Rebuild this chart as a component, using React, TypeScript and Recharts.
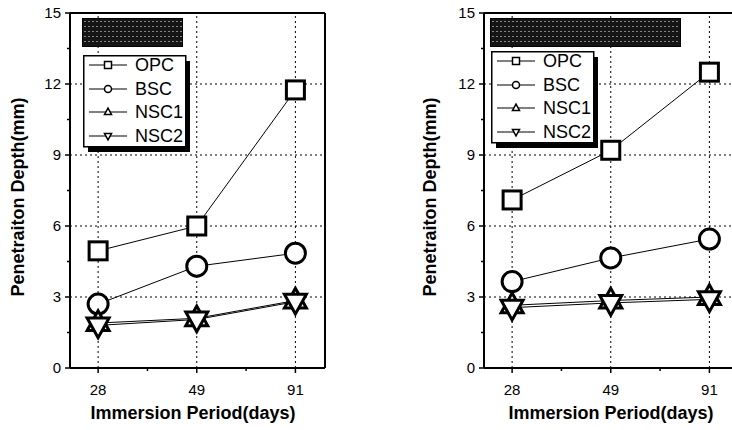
import React from "react";
import {
  LineChart,
  Line,
  XAxis,
  YAxis,
  ReferenceLine,
} from "recharts";

// immersion periods (days) shown on the x axis
const periods = ["28", "49", "91"];
const xTicks = [0, 0.5, 1, 1.5, 2];
const yTicks = [0, 1.5, 3, 4.5, 6, 7.5, 9, 10.5, 12, 13.5, 15];
const gridX = [0, 1, 2];
const gridY = [3, 6, 9, 12];

// left panel
const leftOpc = [4.95, 6.0, 11.75];
const leftBsc = [2.7, 4.3, 4.85];
const leftNsc1 = [1.9, 2.1, 2.85];
const leftNsc2 = [1.8, 2.05, 2.8];

// right panel
const rightOpc = [7.1, 9.2, 12.5];
const rightBsc = [3.65, 4.65, 5.45];
const rightNsc1 = [2.65, 2.85, 3.0];
const rightNsc2 = [2.55, 2.75, 2.9];

const seriesNames = ["OPC", "BSC", "NSC1", "NSC2"];
const seriesKeys = ["opc", "bsc", "nsc1", "nsc2"];

const FONT = "'Liberation Sans', Arial, sans-serif";
const X_DOMAIN: [number, number] = [-0.285, 2.3];

type Shape = "square" | "circle" | "up" | "down";
const shapes: Shape[] = ["square", "circle", "up", "down"];

function Marker({ cx, cy, shape, s, sw }: { cx: number; cy: number; shape: Shape; s: number; sw: number }) {
  if (shape === "square")
    return <rect x={cx - s / 2} y={cy - s / 2} width={s} height={s} fill="#fff" stroke="#000" strokeWidth={sw} />;
  if (shape === "circle")
    return <circle cx={cx} cy={cy} r={s / 2} fill="#fff" stroke="#000" strokeWidth={sw} />;
  const h = s * 0.9;
  if (shape === "up")
    return (
      <polygon
        points={`${cx},${cy - h * 0.62} ${cx - s / 2},${cy + h * 0.38} ${cx + s / 2},${cy + h * 0.38}`}
        fill="#fff"
        stroke="#000"
        strokeWidth={sw}
      />
    );
  return (
    <polygon
      points={`${cx},${cy + h * 0.62} ${cx - s / 2},${cy - h * 0.38} ${cx + s / 2},${cy - h * 0.38}`}
      fill="#fff"
      stroke="#000"
      strokeWidth={sw}
    />
  );
}

const XTick = (props: any) => {
  const { x, y, payload } = props;
  const v = payload.value;
  const major = Number.isInteger(v);
  return (
    <g>
      <line x1={x} x2={x} y1={y} y2={y + (major ? 5 : 3)} stroke="#000" strokeWidth={1.5} />
      {major && (
        <text x={x} y={y + 27} textAnchor="middle" fontSize={15} fontFamily={FONT} fill="#000">
          {periods[v]}
        </text>
      )}
    </g>
  );
};

const YTick = (props: any) => {
  const { x, y, payload } = props;
  const v = payload.value;
  const major = v % 3 === 0;
  return (
    <g>
      <line x1={x} x2={x - (major ? 5 : 3)} y1={y} y2={y} stroke="#000" strokeWidth={1.5} />
      {major && (
        <text x={x - 9} y={y + 5} textAnchor="end" fontSize={15} fontFamily={FONT} fill="#000">
          {v}
        </text>
      )}
    </g>
  );
};

function Legend({ left, top }: { left: number; top: number }) {
  const rows = [10, 34, 57, 81];
  return (
    <svg style={{ position: "absolute", left, top, overflow: "visible" }} width={112} height={100}>
      <rect x={5} y={6} width={102} height={91} fill="#000" />
      <rect x={0.75} y={0.75} width={102} height={91} fill="#fff" stroke="#000" strokeWidth={1.5} />
      {seriesNames.map((n, i) => (
        <g key={n}>
          <line x1={6} x2={44} y1={rows[i]} y2={rows[i]} stroke="#000" strokeWidth={1.2} />
          <Marker cx={25} cy={rows[i]} shape={shapes[i]} s={7} sw={1.5} />
          <text x={52} y={rows[i] + 6} fontSize={18} fontFamily={FONT} fill="#000">
            {n}
          </text>
        </g>
      ))}
    </svg>
  );
}

function TitleBox({ left, top, width, height }: { left: number; top: number; width: number; height: number }) {
  return (
    <div
      style={{
        position: "absolute",
        left,
        top,
        width,
        height,
        background: "#151515",
        backgroundImage:
          "radial-gradient(circle, rgba(210,210,210,0.6) 0.7px, transparent 1.1px)",
        backgroundSize: "4px 5px",
        border: "1px solid #000",
      }}
    />
  );
}

function Panel({
  left,
  opc,
  bsc,
  nsc1,
  nsc2,
  boxLeft,
  legendTop,
  titleWidth,
  yLabelX,
  xLabelX,
}: {
  left: number;
  opc: number[];
  bsc: number[];
  nsc1: number[];
  nsc2: number[];
  boxLeft: number;
  legendTop: number;
  titleWidth: number;
  yLabelX: number;
  xLabelX: number;
}) {
  const data = periods.map((p, i) => ({ idx: i, opc: opc[i], bsc: bsc[i], nsc1: nsc1[i], nsc2: nsc2[i] }));
  return (
    <div style={{ position: "absolute", left, top: 0, width: 345, height: 430 }}>
      <LineChart width={345} height={430} data={data} margin={{ top: 13, right: 20, bottom: 0, left: 0 }}>
        <XAxis
          dataKey="idx"
          type="number"
          domain={X_DOMAIN}
          allowDataOverflow
          ticks={xTicks}
          interval={0}
          tick={<XTick />}
          tickLine={false}
          tickSize={0}
          tickMargin={0}
          axisLine={{ stroke: "#000", strokeWidth: 2 }}
          height={62}
        />
        <YAxis
          type="number"
          domain={[0, 15]}
          ticks={yTicks}
          interval={0}
          tick={<YTick />}
          tickLine={false}
          tickSize={0}
          tickMargin={0}
          axisLine={{ stroke: "#000", strokeWidth: 2 }}
          width={70}
        />
        {gridX.map((g) => (
          <ReferenceLine key={"x" + g} x={g} stroke="#000" strokeWidth={1} strokeDasharray="2 3" />
        ))}
        {gridY.map((g) => (
          <ReferenceLine key={"y" + g} y={g} stroke="#000" strokeWidth={1} strokeDasharray="2 3" />
        ))}
        {/* frame: top and right edges of the plot */}
        <ReferenceLine y={15} stroke="#000" strokeWidth={2} />
        <ReferenceLine x={X_DOMAIN[1]} stroke="#000" strokeWidth={2} />
        {seriesKeys.map((k, i) => (
          <Line
            key={k}
            dataKey={k}
            stroke="#000"
            strokeWidth={1}
            isAnimationActive={false}
            dot={(p: any) => (
              <Marker key={k + p.index} cx={p.cx} cy={p.cy} shape={shapes[i]} s={i === 1 ? 20 : i === 0 ? 18 : 22} sw={3} />
            )}
            activeDot={false}
          />
        ))}
      </LineChart>
      <TitleBox left={boxLeft - 1} top={18} width={titleWidth} height={27} />
      <Legend left={boxLeft} top={legendTop} />
      <div
        style={{
          position: "absolute",
          left: yLabelX,
          top: 197,
          transform: "translate(-50%, -50%) rotate(-90deg)",
          whiteSpace: "nowrap",
          fontFamily: FONT,
          fontWeight: "bold",
          fontSize: 18,
          color: "#000",
        }}
      >
        Penetraiton Depth(mm)
      </div>
      <div
        style={{
          position: "absolute",
          left: xLabelX,
          top: 413,
          transform: "translate(-50%, -50%)",
          whiteSpace: "nowrap",
          fontFamily: FONT,
          fontWeight: "bold",
          fontSize: 18,
          color: "#000",
        }}
      >
        Immersion Period(days)
      </div>
    </div>
  );
}

export default function App() {
  return (
    <div
      style={{
        position: "fixed",
        left: 0,
        top: 0,
        width: 732,
        height: 430,
        overflow: "hidden",
        background: "#fff",
      }}
    >
      <Panel
        left={0}
        opc={leftOpc}
        bsc={leftBsc}
        nsc1={leftNsc1}
        nsc2={leftNsc2}
        boxLeft={83}
        legendTop={55}
        titleWidth={99}
        yLabelX={18}
        xLabelX={193}
      />
      <Panel
        left={414}
        opc={rightOpc}
        bsc={rightBsc}
        nsc1={rightNsc1}
        nsc2={rightNsc2}
        boxLeft={77}
        legendTop={51}
        titleWidth={189}
        yLabelX={16}
        xLabelX={197}
      />
    </div>
  );
}
